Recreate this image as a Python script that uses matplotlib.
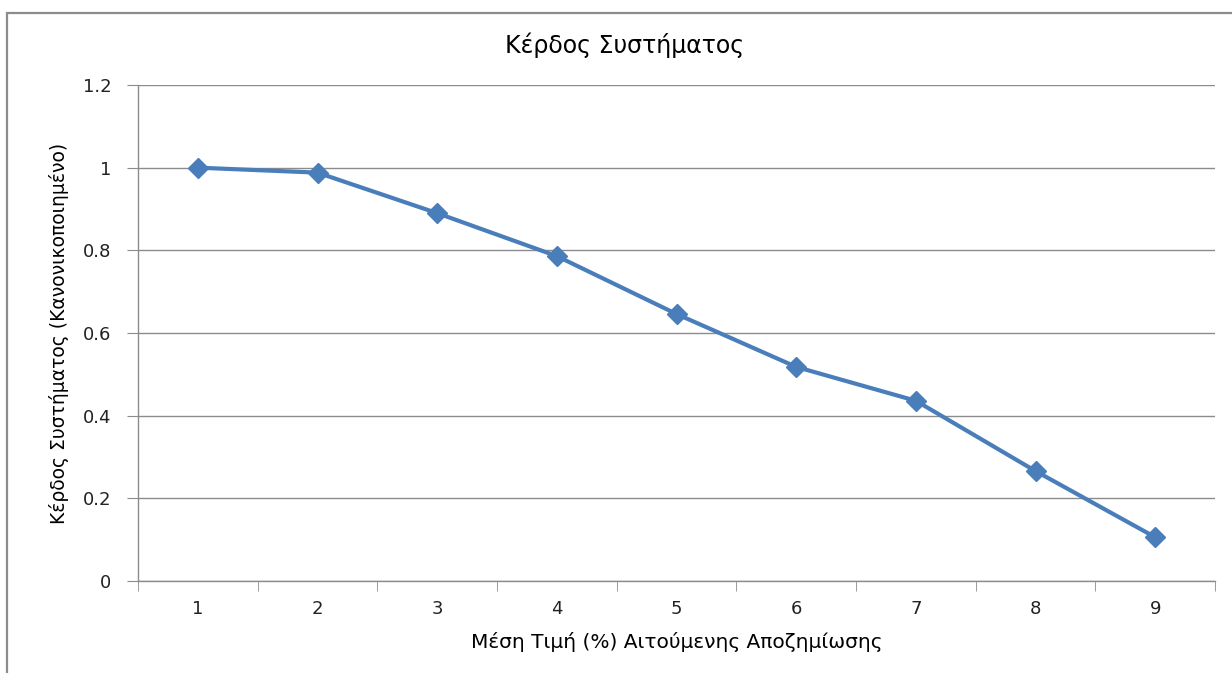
import matplotlib
matplotlib.use("Agg")
import matplotlib.pyplot as plt
from matplotlib.patches import Rectangle
import numpy as np

# data
categories = [1, 2, 3, 4, 5, 6, 7, 8, 9]
gain = [1.0, 0.988, 0.89, 0.786, 0.646, 0.518, 0.436, 0.266, 0.106]
y_ticks = [0, 0.2, 0.4, 0.6, 0.8, 1, 1.2]
y_tick_labels = ["0", "0.2", "0.4", "0.6", "0.8", "1", "1.2"]

title = "Κέρδος Συστήματος"
x_label = "Μέση Τιμή (%) Αιτούμενης Αποζημίωσης"
y_label = "Κέρδος Συστήματος (Κανονικοποιημένο)"

W, H = 1232, 673
fig = plt.figure(figsize=(W / 100, H / 100), dpi=100)
plt.rcParams['font.family'] = ['DejaVu Sans']

# chart border (Excel-style frame, open at right/bottom edges of the crop)
fig.add_artist(Rectangle(
    (7 / W, -0.05), 1.1, 1 - 13 / H + 0.05,
    transform=fig.transFigure, fill=False, edgecolor='#8c8c8c', linewidth=1.6
))

ax = fig.add_axes([138 / W, 1 - 581 / H, (1215 - 138) / W, (581 - 85) / H])

pos = np.arange(len(categories))
ax.plot(pos, gain, color='#4a7ebb', linewidth=3, marker='D', markersize=10,
        markerfacecolor='#4a7ebb', markeredgecolor='#4a7ebb', zorder=3)

ax.set_xlim(-0.5, len(categories) - 0.5)
ax.set_ylim(0, 1.2)
ax.set_yticks(y_ticks)
ax.set_yticklabels(y_tick_labels)
ax.set_xticks(pos)
ax.set_xticklabels([str(c) for c in categories])
ax.set_xticks(np.arange(len(categories) + 1) - 0.5, minor=True)

ax.yaxis.grid(True, color='#8c8c8c', linewidth=1)
ax.set_axisbelow(True)
for side in ['top', 'right']:
    ax.spines[side].set_visible(False)
for side in ['left', 'bottom']:
    ax.spines[side].set_color('#8c8c8c')
    ax.spines[side].set_linewidth(1)

ax.tick_params(axis='y', length=8, color='#8c8c8c', labelsize=13, pad=11,
               labelcolor='#222222')
ax.tick_params(axis='x', which='major', length=0, labelsize=13, pad=14,
               labelcolor='#222222')
ax.tick_params(axis='x', which='minor', length=7, color='#8c8c8c')

ax.set_xlabel(x_label, fontsize=14.5, labelpad=10)
ax.set_ylabel(y_label, fontsize=13.5, labelpad=10)
fig.text(625 / W, 1 - 45 / H, title, fontsize=17, ha='center', va='center')

fig.savefig("out.png", dpi=100)
